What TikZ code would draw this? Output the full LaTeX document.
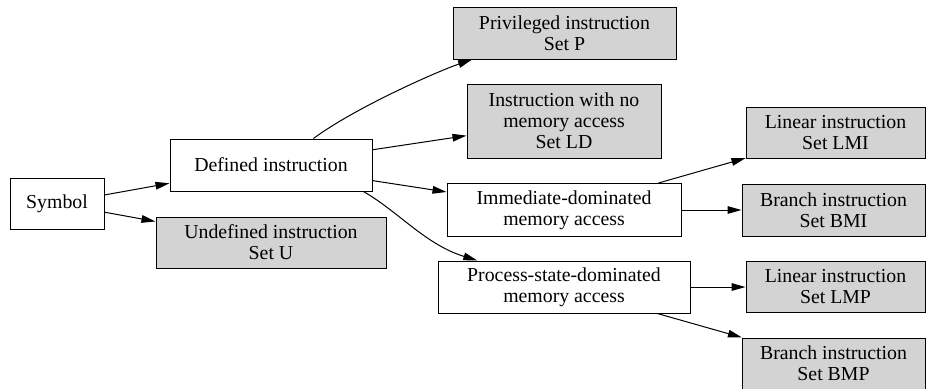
\documentclass[tikz,border=0pt]{standalone}
\usepackage{fontspec}
\setmainfont{Liberation Serif}
\usetikzlibrary{arrows.meta}
\definecolor{setgray}{RGB}{211,211,211}
\begin{document}
\begin{tikzpicture}[x=0.5pt,y=-0.5pt,line width=0.5pt,
  box/.style={draw,rectangle,fill=white,inner sep=1pt,align=center,
    font=\fontsize{9.9}{10.5}\selectfont},
  setbox/.style={box,fill=setgray},
  >={Triangle[length=7pt,width=3.8pt]}]
\useasboundingbox (0,0) rectangle (927,388);

% left part
\node[box,minimum width=47pt,minimum height=25.5pt] (symbol) at (57,203.5) {Symbol};
\node[box,minimum width=101pt,minimum height=26pt] (defined) at (271,165) {Defined instruction};
\node[setbox,minimum width=115pt,minimum height=25.5pt] (undef) at (271,242.5) {Undefined instruction\\Set U};

% middle column
\node[setbox,minimum width=111.5pt,minimum height=26pt] (priv) at (564.5,33) {Privileged instruction\\Set P};
\node[setbox,minimum width=97pt,minimum height=37pt] (nomem) at (564,121) {Instruction with no\\memory access\\Set LD};
\node[box,minimum width=117pt,minimum height=26.5pt] (immed) at (564,210) {Immediate-dominated\\memory access};
\node[box,minimum width=126pt,minimum height=26pt] (pstate) at (564,287) {Process-state-dominated\\memory access};

% right column
\node[setbox,minimum width=89.5pt,minimum height=25.5pt] (lmi) at (835.5,132.5) {Linear instruction\\Set LMI};
\node[setbox,minimum width=91.5pt,minimum height=26pt] (bmi) at (833.5,210) {Branch instruction\\Set BMI};
\node[setbox,minimum width=89.5pt,minimum height=25.5pt] (lmp) at (835.5,287) {Linear instruction\\Set LMP};
\node[setbox,minimum width=91.5pt,minimum height=25.5pt] (bmp) at (833.5,363.5) {Branch instruction\\Set BMP};

\draw[->] (symbol) -- (defined);
\draw[->] (symbol) -- (undef);
\draw[->] (defined.32) .. controls +(42,-31) and +(-35,12) .. (priv.196);
\draw[->] (defined) -- (nomem);
\draw[->] (defined) -- (immed);
\draw[->] (defined.-16) .. controls +(35,20) and +(-52,-16) .. (pstate.163);
\draw[->] (immed) -- (lmi);
\draw[->] (immed) -- (bmi);
\draw[->] (pstate) -- (lmp);
\draw[->] (pstate) -- (bmp);
\end{tikzpicture}
\end{document}
